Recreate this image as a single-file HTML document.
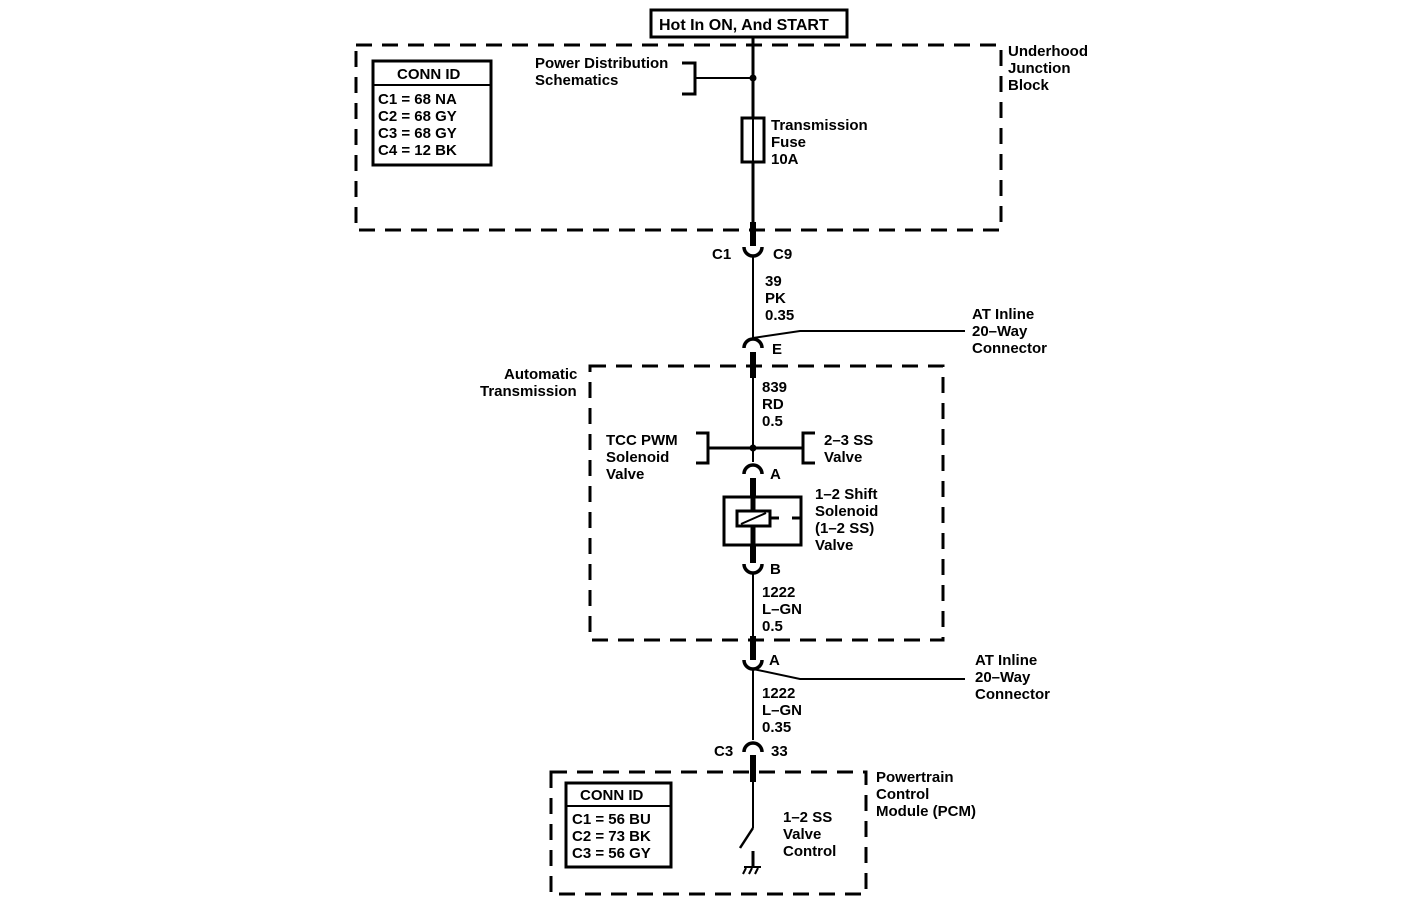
<!DOCTYPE html>
<html><head><meta charset="utf-8"><style>
html,body{margin:0;padding:0;background:#fff}
svg{display:block}
text{font-family:"Liberation Sans",Arial,sans-serif;font-size:15px;fill:#000;font-weight:bold}
</style></head><body>
<svg width="1408" height="920" viewBox="0 0 1408 920" xmlns="http://www.w3.org/2000/svg">
<g fill="none" stroke="#000">
<rect x="356" y="45" width="645" height="185" stroke-width="3" stroke-dasharray="16,10"/>
<rect x="590" y="366" width="353" height="274" stroke-width="3" stroke-dasharray="16,10"/>
<rect x="551" y="772" width="315" height="122" stroke-width="3" stroke-dasharray="16,10"/>
<rect x="651" y="10" width="196" height="27" stroke-width="3"/>
<rect x="373" y="61" width="118" height="104" stroke-width="3"/>
<line x1="373" y1="85" x2="491" y2="85" stroke-width="2"/>
<rect x="566" y="783" width="105" height="84" stroke-width="3"/>
<line x1="566" y1="806" x2="671" y2="806" stroke-width="2"/>
<line x1="753" y1="37" x2="753" y2="117" stroke-width="3"/>
<line x1="753" y1="162" x2="753" y2="230" stroke-width="3"/>
<line x1="753" y1="222" x2="753" y2="246" stroke-width="6"/>
<line x1="695" y1="78" x2="753" y2="78" stroke-width="2"/>
<polyline points="682,63 695,63 695,94 682,94" stroke-width="3"/>
<rect x="742" y="118" width="22" height="44" stroke-width="3"/>
<line x1="753" y1="118" x2="753" y2="162" stroke-width="2"/>
<path d="M744,247 A9,9 0 0 0 762,247" stroke-width="3.5"/>
<line x1="753" y1="256" x2="753" y2="338" stroke-width="2"/>
<path d="M744,348 A9,9 0 0 1 762,348" stroke-width="3.5"/>
<polyline points="753,338 800,331 965,331" stroke-width="2"/>
<line x1="753" y1="352" x2="753" y2="378" stroke-width="6"/>
<line x1="753" y1="378" x2="753" y2="462" stroke-width="2"/>
<line x1="709" y1="448" x2="803" y2="448" stroke-width="3"/>
<polyline points="696,433 708,433 708,463 696,463" stroke-width="3"/>
<polyline points="815,433 803,433 803,463 815,463" stroke-width="3"/>
<path d="M744,474 A9,9 0 0 1 762,474" stroke-width="3.5"/>
<line x1="753" y1="478" x2="753" y2="563" stroke-width="6"/>
<rect x="724" y="497" width="77" height="48" stroke-width="3" fill="#fff"/>
<line x1="753" y1="497" x2="753" y2="545" stroke-width="5"/>
<rect x="737" y="511" width="33" height="15" stroke-width="3" fill="#fff"/>
<line x1="741" y1="524" x2="766" y2="513" stroke-width="2"/>
<line x1="770" y1="518" x2="779" y2="518" stroke-width="3"/>
<line x1="792" y1="518" x2="801" y2="518" stroke-width="3"/>
<path d="M744,564 A9,9 0 0 0 762,564" stroke-width="3.5"/>
<line x1="753" y1="573" x2="753" y2="640" stroke-width="2"/>
<line x1="753" y1="636" x2="753" y2="660" stroke-width="6"/>
<path d="M744,660 A9,9 0 0 0 762,660" stroke-width="3.5"/>
<polyline points="753,669 800,679 965,679" stroke-width="2"/>
<line x1="753" y1="669" x2="753" y2="740" stroke-width="2"/>
<path d="M744,752 A9,9 0 0 1 762,752" stroke-width="3.5"/>
<line x1="753" y1="755" x2="753" y2="782" stroke-width="6"/>
<line x1="753" y1="782" x2="753" y2="828" stroke-width="2"/>
<line x1="753" y1="828" x2="740" y2="848" stroke-width="2.5"/>
<line x1="753" y1="851" x2="753" y2="867" stroke-width="3"/>
<line x1="744" y1="867" x2="761" y2="867" stroke-width="2"/>
<line x1="746" y1="868" x2="743" y2="874" stroke-width="2"/>
<line x1="752" y1="868" x2="749" y2="874" stroke-width="2"/>
<line x1="758" y1="868" x2="755" y2="874" stroke-width="2"/>
</g>
<circle cx="753" cy="78" r="3.5"/>
<circle cx="753" cy="448" r="3.5"/>
<g>
<text x="659" y="30" style="font-size:16px">Hot In ON, And START</text>
<text x="397" y="79">CONN ID</text>
<text x="378" y="104">C1 = 68 NA</text>
<text x="378" y="121">C2 = 68 GY</text>
<text x="378" y="138">C3 = 68 GY</text>
<text x="378" y="155">C4 = 12 BK</text>
<text x="535" y="68">Power Distribution</text>
<text x="535" y="85">Schematics</text>
<text x="771" y="130">Transmission</text>
<text x="771" y="147">Fuse</text>
<text x="771" y="164">10A</text>
<text x="1008" y="56">Underhood</text>
<text x="1008" y="73">Junction</text>
<text x="1008" y="90">Block</text>
<text x="712" y="259">C1</text>
<text x="773" y="259">C9</text>
<text x="765" y="286">39</text>
<text x="765" y="303">PK</text>
<text x="765" y="320">0.35</text>
<text x="972" y="319">AT Inline</text>
<text x="972" y="336">20–Way</text>
<text x="972" y="353">Connector</text>
<text x="772" y="354">E</text>
<text x="504" y="379">Automatic</text>
<text x="480" y="396">Transmission</text>
<text x="762" y="392">839</text>
<text x="762" y="409">RD</text>
<text x="762" y="426">0.5</text>
<text x="606" y="445">TCC PWM</text>
<text x="606" y="462">Solenoid</text>
<text x="606" y="479">Valve</text>
<text x="824" y="445">2–3 SS</text>
<text x="824" y="462">Valve</text>
<text x="770" y="479">A</text>
<text x="815" y="499">1–2 Shift</text>
<text x="815" y="516">Solenoid</text>
<text x="815" y="533">(1–2 SS)</text>
<text x="815" y="550">Valve</text>
<text x="770" y="574">B</text>
<text x="762" y="597">1222</text>
<text x="762" y="614">L–GN</text>
<text x="762" y="631">0.5</text>
<text x="769" y="665">A</text>
<text x="975" y="665">AT Inline</text>
<text x="975" y="682">20–Way</text>
<text x="975" y="699">Connector</text>
<text x="762" y="698">1222</text>
<text x="762" y="715">L–GN</text>
<text x="762" y="732">0.35</text>
<text x="714" y="756">C3</text>
<text x="771" y="756">33</text>
<text x="876" y="782">Powertrain</text>
<text x="876" y="799">Control</text>
<text x="876" y="816">Module (PCM)</text>
<text x="580" y="800">CONN ID</text>
<text x="572" y="824">C1 = 56 BU</text>
<text x="572" y="841">C2 = 73 BK</text>
<text x="572" y="858">C3 = 56 GY</text>
<text x="783" y="822">1–2 SS</text>
<text x="783" y="839">Valve</text>
<text x="783" y="856">Control</text>
</g>
</svg>
</body></html>
